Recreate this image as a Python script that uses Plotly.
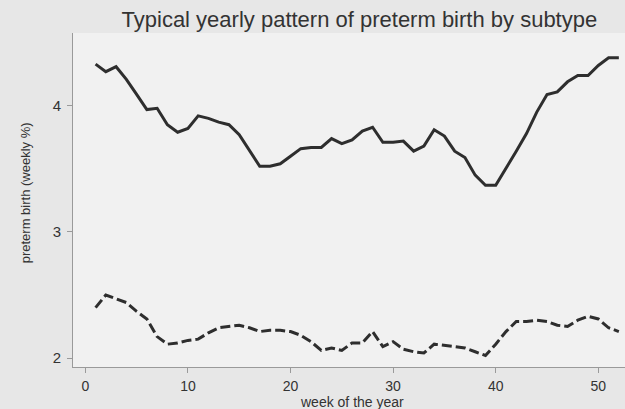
import plotly.graph_objects as go

weeks = list(range(1, 53))

# solid line (upper series)
upper = [4.33, 4.27, 4.31, 4.21, 4.09, 3.97, 3.98, 3.85, 3.79, 3.82,
         3.92, 3.90, 3.87, 3.85, 3.77, 3.65, 3.52, 3.52, 3.54, 3.60,
         3.66, 3.67, 3.67, 3.74, 3.70, 3.73, 3.80, 3.83, 3.71, 3.71,
         3.72, 3.64, 3.68, 3.81, 3.76, 3.64, 3.59, 3.45, 3.37, 3.37,
         3.50, 3.64, 3.78, 3.95, 4.09, 4.11, 4.19, 4.24, 4.24, 4.32,
         4.38, 4.38]

# dashed line (lower series)
lower = [2.40, 2.50, 2.47, 2.44, 2.37, 2.31, 2.17, 2.11, 2.12, 2.14,
         2.15, 2.20, 2.24, 2.25, 2.26, 2.24, 2.21, 2.22, 2.22, 2.21,
         2.18, 2.13, 2.06, 2.08, 2.06, 2.12, 2.12, 2.21, 2.09, 2.13,
         2.07, 2.05, 2.04, 2.11, 2.10, 2.09, 2.08, 2.05, 2.02, 2.11,
         2.21, 2.29, 2.29, 2.30, 2.29, 2.26, 2.25, 2.30, 2.33, 2.31,
         2.24, 2.21]

x_ticks = [0, 10, 20, 30, 40, 50]
y_ticks = [2, 3, 4]

font_family = "Liberation Sans, Arial, sans-serif"
ink = "#2e2e2e"
txt = "#333333"

fig = go.Figure()
fig.add_trace(go.Scatter(x=weeks, y=upper, mode="lines",
                         line=dict(color=ink, width=3)))
fig.add_trace(go.Scatter(x=weeks, y=lower, mode="lines",
                         line=dict(color=ink, width=3, dash="10px,4px")))

fig.update_layout(
    width=625, height=409,
    margin=dict(l=73, r=0, t=33, b=42),
    paper_bgcolor="#e7e7e7",
    plot_bgcolor="#f1f1f1",
    showlegend=False,
    font=dict(family=font_family, color=txt),
    title=dict(text="Typical yearly pattern of preterm birth by subtype",
               x=0.575, xanchor="center", y=0.953, yanchor="middle",
               font=dict(size=22, color=txt)),
    annotations=[
        dict(text="week of the year", xref="paper", yref="paper",
             x=0.505, y=0, xanchor="center", yanchor="middle", yshift=-35,
             showarrow=False, font=dict(size=14, color=txt)),
        dict(text="preterm birth (weekly %)", xref="paper", yref="paper",
             x=0, y=0.52, xanchor="center", yanchor="middle", xshift=-48,
             textangle=-90, showarrow=False, font=dict(size=13, color=txt)),
    ],
)

fig.update_xaxes(
    range=[-1.2, 52.6], tickvals=x_ticks, showgrid=False, zeroline=False,
    showline=True, linecolor="#9a9a9a", linewidth=1,
    ticks="outside", ticklen=5, tickcolor="#9a9a9a", ticklabelstandoff=1,
    tickfont=dict(size=14, color=txt),
)
fig.update_yaxes(
    range=[1.929, 4.577], tickvals=y_ticks, showgrid=False, zeroline=False,
    showline=True, linecolor="#9a9a9a", linewidth=1,
    ticks="outside", ticklen=5, tickcolor="#9a9a9a", ticklabelstandoff=3,
    tickfont=dict(size=15, color=txt),
)

# drop the page's default body margin so the figure fills the window
fig.write_html("out.html",
               config={"displayModeBar": False},
               post_script="document.body.style.margin='0';"
                           "document.body.style.background='#e7e7e7';")
